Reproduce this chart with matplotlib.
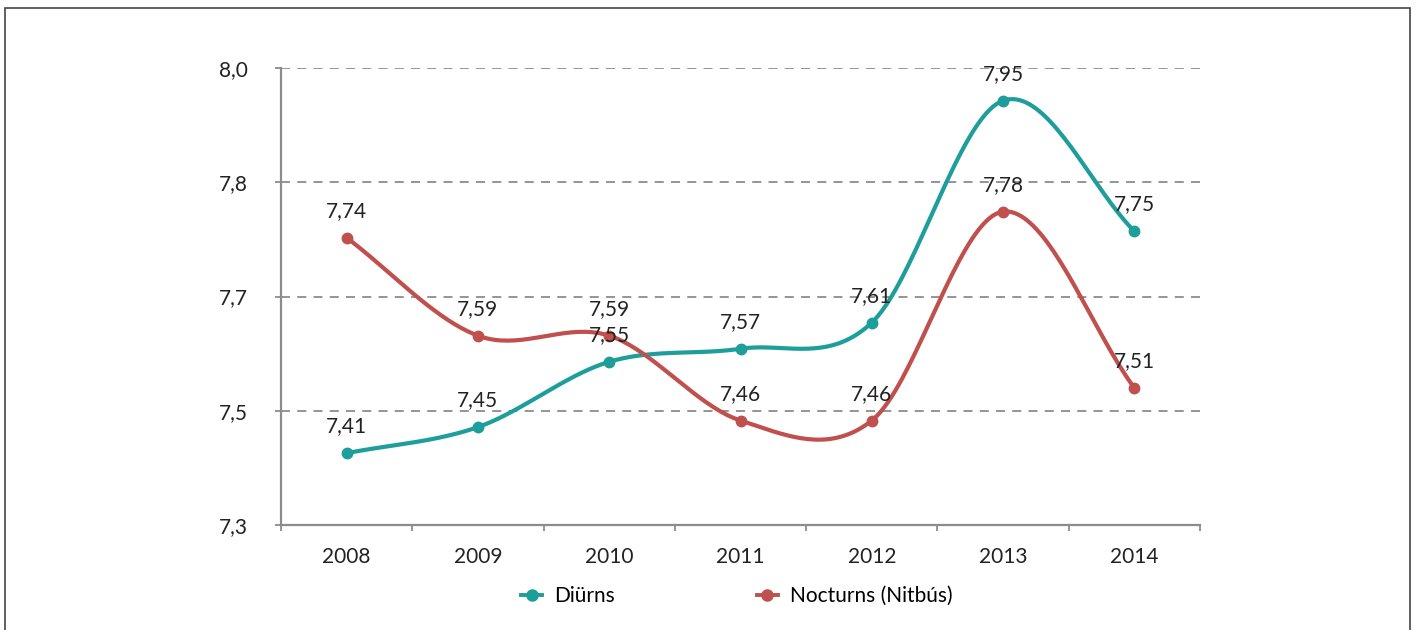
import numpy as np
import matplotlib
matplotlib.use("Agg")
import matplotlib.pyplot as plt
from matplotlib.lines import Line2D
from matplotlib.patches import Rectangle
from decimal import Decimal, ROUND_HALF_UP

years = ["2008", "2009", "2010", "2011", "2012", "2013", "2014"]
diurns = [7.41, 7.45, 7.55, 7.57, 7.61, 7.95, 7.75]
nocturns = [7.74, 7.59, 7.59, 7.46, 7.46, 7.78, 7.51]
series_names = ["Diürns", "Nocturns (Nitbús)"]
colors = ["#1E9E9B", "#C0504D"]
y_min, y_max, y_step = 7.3, 8.0, 0.175

plt.rcParams['font.family'] = ['Lato', 'DejaVu Sans']
FS = 15

def fmt1(v):
    d = Decimal(str(round(v, 6))).quantize(Decimal("0.1"), rounding=ROUND_HALF_UP)
    return str(d).replace(".", ",")

def catmull_rom(x, y, n=40):
    x = np.asarray(x, float); y = np.asarray(y, float)
    P = np.column_stack([x, y])
    P = np.vstack([P[0] - (P[1] - P[0]), P, P[-1] + (P[-1] - P[-2])])
    out = []
    for i in range(1, len(P) - 2):
        p0, p1, p2, p3 = P[i-1], P[i], P[i+1], P[i+2]
        t = np.linspace(0, 1, n)[:, None]
        c1 = p1 + (p2 - p0) / 6.0
        c2 = p2 - (p3 - p1) / 6.0
        seg = ((1-t)**3)*p1 + 3*((1-t)**2)*t*c1 + 3*(1-t)*(t**2)*c2 + (t**3)*p2
        out.append(seg)
    out = np.vstack(out)
    return out[:, 0], out[:, 1]

fig = plt.figure(figsize=(14.16, 6.3), dpi=100)
fig.patches.append(Rectangle((5/1416, -0.05), 1405/1416, 1.05 - 8/630, transform=fig.transFigure,
                             fill=False, edgecolor="#444444", linewidth=1.2, clip_on=False))
ax = fig.add_axes([281/1416, 1 - 525/630, (1200-281)/1416, (525-68)/630])

x = np.arange(len(years))
for vals, col in zip([diurns, nocturns], colors):
    sx, sy = catmull_rom(x, vals)
    ax.plot(sx, sy, color=col, lw=3.0, solid_capstyle='round', zorder=3)
    ax.plot(x, vals, 'o', color=col, ms=7.5, zorder=4)
    for xi, v in zip(x, vals):
        ax.annotate(f"{v:.2f}".replace(".", ","), (xi, v), xytext=(0, 12),
                    textcoords="offset points", ha="center", va="bottom",
                    fontsize=FS, color="#222222", zorder=5)

yt = np.arange(y_min, y_max + 1e-9, y_step)
ax.set_yticks(yt)
ax.set_yticklabels([fmt1(v) for v in yt])
ax.set_ylim(y_min, y_max)
ax.set_xlim(-0.5, len(years) - 0.5)
for v in yt[1:]:
    ax.axhline(v, color="#8c8c8c", lw=1.3, ls=(0, (5, 4)), zorder=1)

ax.set_xticks(x)
ax.set_xticklabels(years)
ax.set_xticks(np.arange(-0.5, len(years)), minor=True)
ax.tick_params(axis='x', which='major', length=0, pad=16, labelsize=FS, colors="#222222")
ax.tick_params(axis='x', which='minor', length=4, width=1.3, color="#8c8c8c")
ax.tick_params(axis='y', length=4, width=1.3, color="#8c8c8c", pad=20, labelsize=FS, labelcolor="#222222")

for s in ["top", "right"]:
    ax.spines[s].set_visible(False)
for s in ["left", "bottom"]:
    ax.spines[s].set_color("#8c8c8c")
    ax.spines[s].set_linewidth(1.6)

handles = [Line2D([], [], color=c, marker='o', ms=8, lw=2.8) for c in colors]
fig.legend(handles, series_names, loc="center", bbox_to_anchor=(737/1416, 1 - 596/630),
           ncol=2, frameon=False, fontsize=FS, handlelength=1.0, columnspacing=6.8,
           handletextpad=0.6)

fig.savefig("out.png", dpi=100)
